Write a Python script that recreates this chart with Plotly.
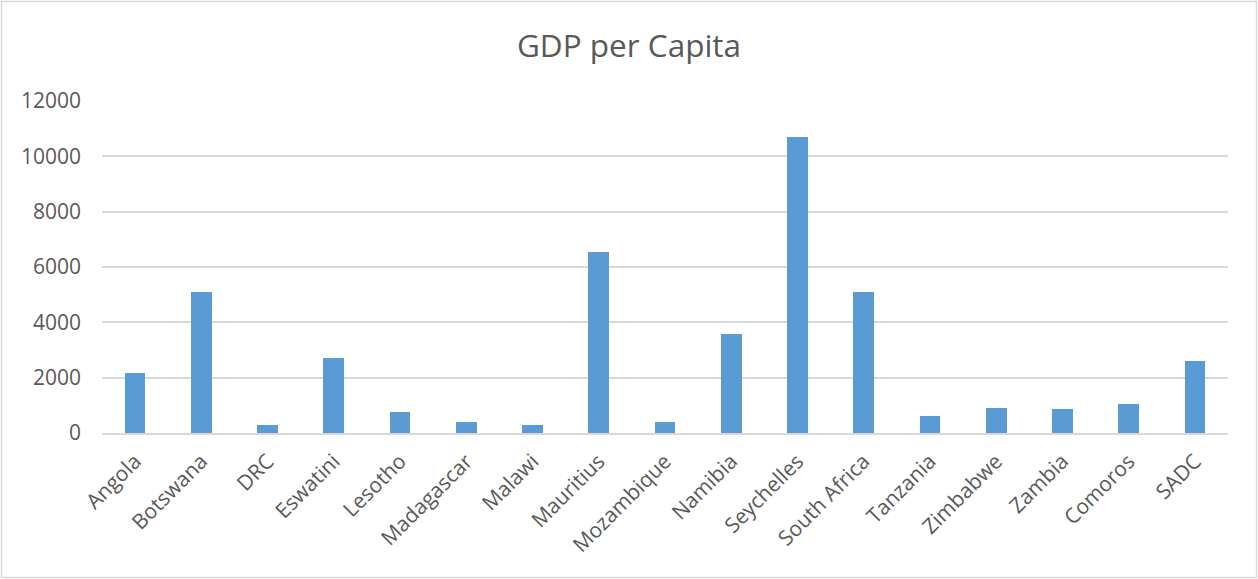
import plotly.graph_objects as go

countries = ["Angola", "Botswana", "DRC", "Eswatini", "Lesotho", "Madagascar", "Malawi",
             "Mauritius", "Mozambique", "Namibia", "Seychelles", "South Africa", "Tanzania",
             "Zimbabwe", "Zambia", "Comoros", "SADC"]
gdp_per_capita = [2160, 5090, 290, 2720, 760, 385, 290,
                  6550, 410, 3590, 10700, 5100, 615,
                  890, 865, 1060, 2600]
y_ticks = [0, 2000, 4000, 6000, 8000, 10000, 12000]

W, H = 1258, 579
ml, mr, mt, mb = 102, 30, 101, 146
pw, ph = W - ml - mr, H - mt - mb

fig = go.Figure(go.Bar(x=countries, y=gdp_per_capita, marker_color="#5b9bd5",
                       marker_line_width=0, width=0.313))

font_fam = "'Open Sans', sans-serif"
fig.update_layout(
    width=W, height=H,
    margin=dict(l=ml, r=mr, t=mt, b=mb, pad=0),
    paper_bgcolor="white", plot_bgcolor="white",
    font=dict(family=font_fam, color="#595959", size=21),
    title=dict(text="GDP per Capita", x=0.5, xanchor="center", y=1 - 46 / H, yanchor="middle",
               font=dict(size=31.5, color="#595959", family=font_fam)),
    showlegend=False,
    bargap=0,
    xaxis=dict(tickangle=-45, showgrid=False, showline=True, linecolor="#d9d9d9", linewidth=1.5,
               ticks="", ticklabelstandoff=6, tickfont=dict(size=21, color="#595959")),
    yaxis=dict(range=[0, 12000], tickvals=y_ticks, ticktext=[str(v) for v in y_ticks],
               showgrid=True, gridcolor="#d9d9d9", gridwidth=1.5, zeroline=False,
               showline=False, ticks="", ticklabelstandoff=20,
               tickfont=dict(size=21, color="#595959")),
    shapes=[dict(type="rect", xref="paper", yref="paper",
                 x0=(1.5 - ml) / pw, x1=(W - 1.5 - ml) / pw,
                 y0=-(H - 1.5 - mt - ph) / ph, y1=(ph + mt - 1.5) / ph,
                 line=dict(color="#d9d9d9", width=1.5), fillcolor="rgba(0,0,0,0)", layer="below")],
)

fig.write_html("out.html")
